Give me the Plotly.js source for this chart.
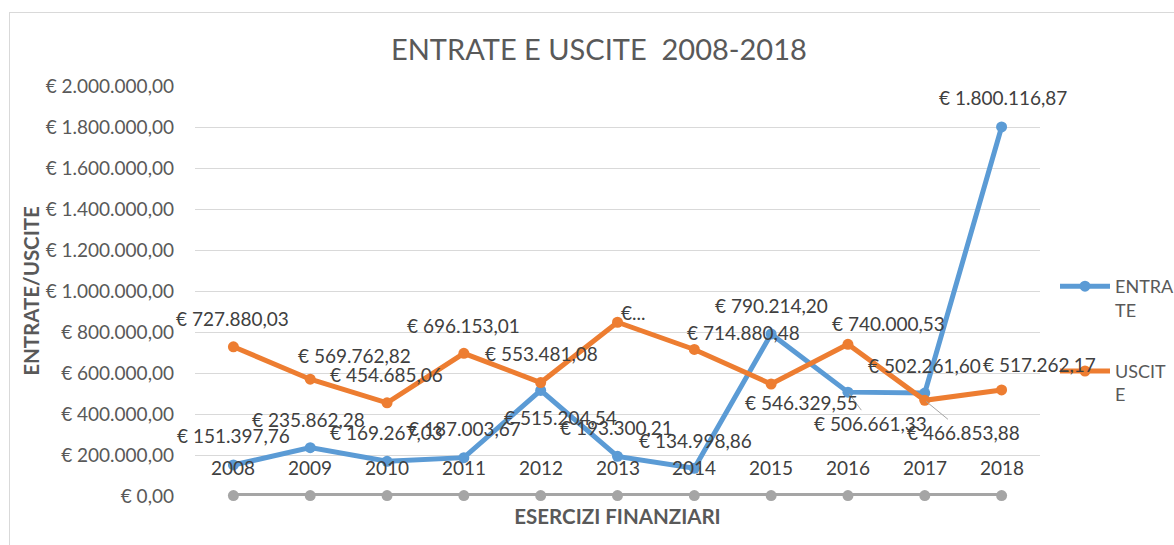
<!DOCTYPE html>
<html>
<head>
<meta charset="utf-8">
<script src="https://cdn.plot.ly/plotly-3.0.1.min.js"></script>
<style>
  html, body { margin: 0; padding: 0; background: #fff; overflow: hidden; }
  #frame { position: absolute; left: 9px; top: 12px; width: 1300px; height: 700px; border: 1px solid #D9D9D9; box-sizing: border-box; }
  #chart { position: absolute; left: 0; top: 0; width: 1174px; height: 545px; }
</style>
</head>
<body>
<div id="frame"></div>
<div id="chart"></div>
<script>
// ---- data ----
const years = ['2008','2009','2010','2011','2012','2013','2014','2015','2016','2017','2018'];
const yearValues = [2008, 2009, 2010, 2011, 2012, 2013, 2014, 2015, 2016, 2017, 2018];
const entrate = [151397.76, 235862.28, 169267.03, 187003.67, 515204.54, 193300.21, 134998.86, 790214.20, 506661.33, 502261.60, 1800116.87];
const uscite = [727880.03, 569762.82, 454685.06, 696153.01, 553481.08, 847500.00, 714880.48, 546329.55, 740000.53, 466853.88, 517262.17];
const yTicks = [0, 200000, 400000, 600000, 800000, 1000000, 1200000, 1400000, 1600000, 1800000, 2000000];

// ---- label placement (pixel offsets from each point) ----
const entrateOffsets = [[0,-29],[-2,-28],[-1,-29],[1,-29],[20,27],[-1,-29],[1,-28],[0,-29],[23,31],[0,-28],[1,-29]];
const usciteOffsets = [[-1,-28],[44,-24],[-1,-28],[0,-28],[1,-29],[15,-10],[49,-17],[30,18],[41,-21],[39,32],[38,-25]];
const entrateLeader = [8];
const usciteLeader = [9];
const usciteTruncated = [5];

const EUR = '\u20AC';
const BLUE = '#5B9BD5', ORANGE = '#ED7D31', GRAY = '#A5A5A5';
const FONT = 'Lato, "Open Sans", sans-serif';
const LABEL_COLOR = '#404040';
const AXIS_COLOR = '#595959';

function euro(v) {
  const parts = v.toFixed(2).split('.');
  const intPart = parts[0].replace(/\B(?=(\d{3})+(?!\d))/g, '.');
  return EUR + ' ' + intPart + ',' + parts[1];
}

const traces = [
  {
    x: years, y: yearValues, type: 'scatter', mode: 'lines+markers', name: 'Anni',
    showlegend: false, cliponaxis: false,
    line: { color: GRAY, width: 5 }, marker: { color: GRAY, size: 11 }
  },
  {
    x: years, y: entrate, type: 'scatter', mode: 'lines+markers', name: 'ENTRA<br>TE',
    legendgroup: 'a', cliponaxis: false,
    line: { color: BLUE, width: 5 }, marker: { color: BLUE, size: 11 }
  },
  {
    x: years, y: uscite, type: 'scatter', mode: 'lines+markers', name: 'USCIT<br>E',
    legendgroup: 'b', cliponaxis: false,
    line: { color: ORANGE, width: 5 }, marker: { color: ORANGE, size: 11 }
  }
];

const annotations = [];
function addLabels(values, offsets, leaders, truncated, textFn) {
  values.forEach(function (v, i) {
    const off = offsets ? offsets[i] : [0, -28];
    const isLeader = !!(leaders && leaders.indexOf(i) >= 0);
    const text = (truncated && truncated.indexOf(i) >= 0) ? (EUR + '...') : textFn(v, i);
    const a = {
      x: i, y: v, xref: 'x', yref: 'y', text: text,   // category index on the x axis
      font: { family: FONT, size: 19, color: LABEL_COLOR },
      xanchor: 'center', yanchor: 'middle'
    };
    if (isLeader) {
      a.showarrow = true; a.arrowhead = 0; a.arrowwidth = 1; a.arrowcolor = '#A6A6A6';
      a.ax = off[0]; a.ay = off[1]; a.standoff = 2;
    } else {
      a.showarrow = false; a.xshift = off[0]; a.yshift = -off[1];
    }
    annotations.push(a);
  });
}
addLabels(yearValues, null, null, null, function (v) { return String(v); });
addLabels(entrate, entrateOffsets, entrateLeader, null, euro);
addLabels(uscite, usciteOffsets, usciteLeader, usciteTruncated, euro);

const layout = {
  width: 1174, height: 545,
  paper_bgcolor: 'rgba(0,0,0,0)', plot_bgcolor: 'rgba(0,0,0,0)',
  separators: ',.',
  margin: { l: 195, r: 134, t: 86, b: 49, autoexpand: false },
  font: { family: FONT, color: AXIS_COLOR },
  title: {
    text: 'ENTRATE E USCITE  2008-2018',
    font: { family: FONT, size: 29, color: AXIS_COLOR },
    xref: 'paper', x: 0.478, xanchor: 'center',
    yref: 'container', y: 1 - 50 / 545, yanchor: 'middle'
  },
  xaxis: {
    type: 'category', range: [-0.5, 10.5], showticklabels: false,
    showgrid: false, zeroline: false, showline: false, ticks: '',
    title: { text: '<b>ESERCIZI FINANZIARI</b>', font: { family: FONT, size: 20.5, color: AXIS_COLOR }, standoff: 13 }
  },
  yaxis: {
    range: [0, 2000000], tickmode: 'array', tickvals: yTicks, ticktext: yTicks.map(euro),
    showgrid: true, gridcolor: '#D9D9D9', gridwidth: 1.2,
    zeroline: false, showline: false, ticks: '', ticklabelstandoff: 20,
    tickfont: { family: FONT, size: 19, color: AXIS_COLOR },
    title: { text: '<b>ENTRATE/USCITE</b>', font: { family: FONT, size: 20.5, color: AXIS_COLOR }, standoff: 0 }
  },
  legend: {
    x: (1055 - 195) / 845, xanchor: 'left', xref: 'paper',
    y: (496 - 268) / 410, yanchor: 'top',
    font: { family: FONT, size: 18, color: AXIS_COLOR },
    valign: 'top', traceorder: 'grouped', tracegroupgap: 35, itemwidth: 50,
    bgcolor: 'rgba(0,0,0,0)'
  },
  annotations: annotations,
  showlegend: true
};

Plotly.newPlot('chart', traces, layout, { displayModeBar: false });
</script>
</body>
</html>
